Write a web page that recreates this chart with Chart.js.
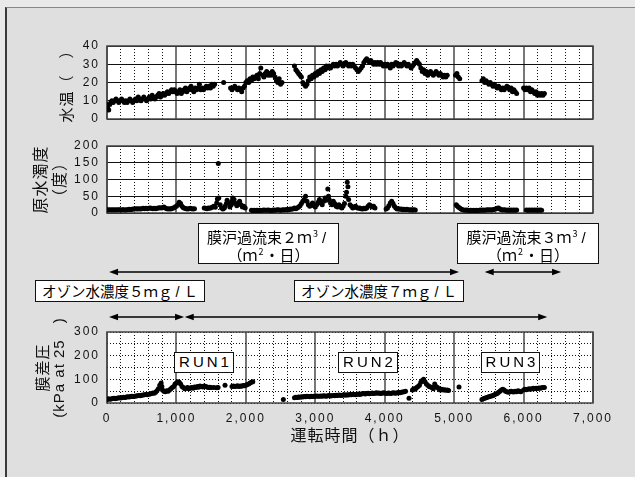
<!DOCTYPE html>
<html><head><meta charset="utf-8">
<script src="https://cdn.jsdelivr.net/npm/chart.js@4.4.1/dist/chart.umd.min.js"></script>
<style>
html,body{margin:0;padding:0;background:#e9e9e9;width:635px;height:477px;overflow:hidden;position:relative;}
#frame{position:absolute;left:5px;top:7px;width:640px;height:480px;background:#dfdfdf;border-top:1px solid #888;border-left:2px solid #3a3a3a;}
canvas{position:absolute;left:0;}
.box{position:absolute;background:#fff;border:1.5px solid #111;box-sizing:border-box;font-family:"Noto Sans CJK JP","Liberation Sans",sans-serif;color:#000;text-align:center;white-space:nowrap;z-index:5;}
.flux{font-size:15px;line-height:17px;padding-top:4px;}
.ozone{font-size:14.5px;line-height:19px;padding-top:0px;}
.run{font-family:"Liberation Sans",Arial,sans-serif;font-size:15px;line-height:18px;letter-spacing:3px;padding-left:3px;}
.sup{font-size:9px;vertical-align:6px;line-height:0;margin:0 1px;}
.sl{font-family:"Liberation Sans",Arial,sans-serif;margin:0 4px 0 3px;}
</style></head><body>
<div id="frame"></div>
<canvas id="c1" width="635" height="130" style="top:0px"></canvas>
<canvas id="c2" width="635" height="95" style="top:130px"></canvas>
<canvas id="c3" width="635" height="262" style="top:215px"></canvas>

<div class="box flux" style="left:198px;top:223px;width:141px;height:41px">膜沪過流束２ｍ<span class="sup">3</span><span class="sl">/</span><br>（ｍ<span class="sup">2</span>・日）</div>
<div class="box flux" style="left:457px;top:223px;width:142px;height:41px">膜沪過流束３ｍ<span class="sup">3</span><span class="sl">/</span><br>（ｍ<span class="sup">2</span>・日）</div>
<div class="box ozone" style="left:35px;top:280px;width:170px;height:22px">オゾン水濃度５ｍｇ<span class="sl">/</span>Ｌ</div>
<div class="box ozone" style="left:294px;top:280px;width:170px;height:22px">オゾン水濃度７ｍｇ<span class="sl">/</span>Ｌ</div>
<div class="box run" style="left:174px;top:352px;width:60px;height:21px">RUN1</div>
<div class="box run" style="left:338px;top:352px;width:60px;height:21px">RUN2</div>
<div class="box run" style="left:481px;top:352px;width:59px;height:21px">RUN3</div>

<script>
// ---- tick values ----
const xMajorTicks = [0,1000,2000,3000,4000,5000,6000,7000];
const xMinorTicks = [200,400,600,800,1200,1400,1600,1800,2200,2400,2600,2800,3200,3400,3600,3800,4200,4400,4600,4800,5200,5400,5600,5800,6200,6400,6600,6800];
const tempTicks = [0,10,20,30,40];
const turbTicks = [0,50,100,150,200];
const pressTicks = [0,50,100,150,200,250,300];
const pressLabelTicks = [0,100,200,300];

// ---- axis titles ----
const tempTitle = "水温（　）";
const turbTitle = ["原水濁度","（度）"];
const pressTitle = ["膜差圧","(kPa at 25　)"];
const xTitle = "運転時間（ｈ）";

// ---- arrow ranges (hours) for the condition annotations ----
const fluxArrows = [[30,5070],[5440,6540]];
const ozoneArrows = [[30,1110],[1120,6340]];

// ---- data: [hours, value] ----
const waterTemp = [
[0,8],[10,6],[25,5],[40,8],[55,9],[70,10],[90,9],[110,10],[130,11],[150,10],[170,9],[190,10],[210,11],[230,10],[250,9],[270,10],[290,9],[310,10],[330,11],[350,10],[370,9],[390,10],[410,11],[430,10],[450,12],[470,11],[490,10],[510,11],[530,12],[550,11],[570,10],[590,11],[610,12],[630,11],[650,13],[670,12],[690,11],[710,12],[730,13],[750,14],[770,12],[790,13],[810,14],[830,13],[850,14],[870,15],[890,14],[910,15],[930,16],[950,15],[970,16],[990,15],[1010,14],[1030,15],[1050,16],[1070,14],[1090,15],[1110,16],[1130,17],[1150,15],[1170,16],[1190,17],[1210,18],[1230,16],[1250,15],[1270,17],[1290,16],[1310,17],[1330,19],[1350,16],[1370,17],[1390,16],[1410,17],[1430,18],[1450,17],[1470,18],[1490,17],[1510,19],[1530,18],[1550,19],
[1680,20],
[1780,17],[1800,16],[1820,17],[1840,18],[1860,17],[1880,16],[1900,17],[1920,16],[1940,15],[1960,17],[1980,18],[2000,20],[2020,21],[2040,20],[2060,22],[2080,21],[2100,23],[2120,22],[2140,23],[2160,24],[2180,22],[2200,25],[2215,28],[2240,24],[2260,23],[2280,25],[2300,26],[2320,24],[2340,25],[2360,24],[2380,26],[2400,25],[2420,23],[2440,21],[2460,20],[2480,22],[2500,19],[2520,20],
[2700,29],[2720,27],[2740,26],[2760,25],[2780,24],[2800,23],[2820,20],[2840,19],[2860,18],[2880,19],[2900,21],[2920,23],[2940,22],[2960,24],[2980,23],[3000,25],[3020,24],[3040,26],[3060,25],[3080,27],[3100,26],[3120,28],[3140,27],[3160,29],[3180,28],[3200,29],[3220,28],[3240,29],[3260,30],[3280,29],[3300,30],[3320,29],[3340,30],[3360,31],[3380,30],[3400,29],[3420,30],[3440,31],[3460,30],[3480,29],[3500,30],[3520,29],[3540,30],[3560,29],[3580,28],[3600,27],[3620,26],[3640,27],[3660,28],[3680,29],[3700,31],[3720,32],[3740,33],[3760,32],[3780,31],[3800,32],[3820,31],[3840,30],[3860,31],[3880,30],[3900,31],[3920,30],[3940,31],[3960,30],[3980,29],[4000,30],[4020,29],[4040,30],[4060,29],[4080,28],[4100,30],[4120,29],[4140,30],[4160,31],[4180,30],[4200,29],[4220,30],[4240,29],[4260,30],[4280,31],[4300,30],[4320,29],[4340,30],[4360,29],[4380,28],[4400,29],[4420,30],[4440,31],[4460,32],[4480,31],[4500,30],[4520,28],[4540,26],[4560,27],[4580,25],[4600,26],[4620,24],[4640,25],[4660,26],[4680,25],[4700,24],[4720,25],[4740,26],[4760,25],[4780,24],[4800,25],[4820,24],[4840,23],[4860,24],[4880,23],[4900,24],
[5020,24],[5040,25],[5060,23],[5080,22],
[5400,21],[5420,22],[5440,20],[5460,21],[5480,20],[5500,19],[5520,20],[5540,19],[5560,18],[5580,19],[5600,18],[5620,17],[5640,18],[5660,17],[5680,16],[5700,17],[5720,16],[5740,17],[5760,18],[5780,17],[5800,16],[5820,17],[5840,15],[5860,16],[5880,15],[5900,14],
[6000,17],[6020,16],[6040,17],[6060,16],[6080,17],[6100,15],[6120,16],[6140,15],[6160,14],[6180,15],[6200,13],[6220,14],[6240,13],[6260,14],[6280,13],[6300,14]
];

const turbidity = [
[0,10],[20,9],[40,10],[60,9],[80,10],[100,9],[120,10],[140,9],[160,10],[180,10],[200,9],[220,10],[240,10],[260,9],[280,10],[300,10],[320,11],[340,10],[360,11],[380,12],[400,12],[420,13],[440,12],[460,13],[480,12],[500,13],[520,14],[540,13],[560,14],[580,13],[600,14],[620,15],[640,14],[660,13],[680,14],[700,13],[720,14],[740,15],[760,16],[780,15],[800,16],[820,18],[840,15],[860,13],[880,12],[900,13],[920,12],[940,14],[960,15],[980,18],[1000,20],[1020,25],[1040,32],[1060,28],[1080,20],[1100,16],[1120,14],[1140,13],[1160,12],[1180,13],[1200,14],[1220,13],[1240,12],[1260,13],
[1400,15],[1420,14],[1440,13],[1460,15],[1480,14],[1500,16],[1520,18],[1540,20],[1560,17],[1580,30],[1590,42],[1603,148],[1610,45],[1630,25],[1650,15],[1670,12],[1690,15],[1700,20],[1720,28],[1730,38],[1750,30],[1770,18],[1790,25],[1800,35],[1810,45],[1830,40],[1850,28],[1870,22],[1890,30],[1910,35],[1930,25],[1950,18],[1970,20],[1990,15],
[2080,8],[2100,7],[2120,8],[2140,7],[2160,8],[2180,7],[2200,8],[2220,7],[2240,8],[2260,9],[2280,8],[2300,8],[2320,9],[2340,8],[2360,7],[2380,8],[2400,9],[2420,8],[2440,9],[2460,10],[2480,9],[2500,8],[2520,9],[2540,10],[2560,9],[2580,10],[2600,11],[2620,10],[2640,12],[2660,11],[2680,13],[2700,15],[2720,13],[2740,15],[2760,18],[2780,22],[2800,28],[2820,35],[2840,40],[2860,50],[2880,35],[2900,25],[2920,20],[2940,25],[2960,30],[2980,22],[3000,18],[3020,25],[3040,32],[3060,40],[3080,30],[3100,25],[3120,35],[3140,45],[3160,38],[3180,72],[3190,50],[3200,40],[3220,30],[3240,25],[3260,35],[3280,28],[3300,20],[3320,18],[3340,25],[3360,20],[3380,15],[3400,20],[3420,28],[3440,50],[3450,62],[3460,92],[3470,78],[3480,40],[3500,25],[3520,20],[3540,15],[3560,18],[3580,20],[3600,16],[3620,14],[3640,15],[3660,13],[3680,12],[3700,14],[3720,13],[3740,15],[3760,20],[3780,25],[3800,22],[3820,18],[3840,20],[3860,15],
[4020,12],[4040,15],[4060,22],[4080,30],[4100,35],[4120,28],[4140,20],[4160,15],[4180,12],[4200,13],[4220,11],[4240,12],[4260,10],[4280,11],[4300,10],[4320,11],[4340,10],[4360,9],[4380,10],[4400,9],[4420,10],[4440,9],
[5030,25],[5040,22],[5060,18],[5080,15],[5100,12],[5120,10],[5140,9],[5160,8],[5180,9],[5200,8],[5220,7],[5240,8],[5260,7],[5280,8],[5300,7],[5320,8],[5340,7],[5360,8],[5380,9],[5400,8],[5420,9],[5440,8],[5460,9],[5480,10],[5500,9],[5520,10],[5540,9],[5560,10],[5580,11],[5600,12],[5620,14],[5640,15],[5660,12],[5680,10],[5700,9],[5720,10],[5740,9],[5760,8],[5780,9],[5800,8],[5820,9],[5840,8],[5860,9],[5880,8],[5900,9],
[6040,9],[6060,8],[6080,9],[6100,8],[6120,9],[6140,8],[6160,9],[6180,8],[6200,9],[6220,8],[6240,9],[6260,8]
];

const pressure = [
[0,15],[20,18],[40,16],[60,17],[80,19],[100,20],[120,18],[140,20],[160,21],[180,22],[200,21],[220,23],[240,24],[260,23],[280,25],[300,26],[320,25],[340,27],[360,28],[380,27],[400,29],[420,30],[440,31],[460,32],[480,31],[500,33],[520,34],[540,35],[560,36],[580,35],[600,37],[620,38],[640,40],[660,42],[680,41],[700,45],[720,52],[740,60],[760,75],[780,85],[790,70],[800,55],[820,50],[840,48],[860,52],[880,50],[900,55],[920,60],[940,65],[960,70],[980,80],[1000,85],[1020,90],[1040,88],[1060,80],[1080,70],[1100,65],[1120,60],[1140,62],[1160,65],[1180,60],[1200,63],[1220,66],[1240,62],[1260,68],[1280,65],[1300,70],[1320,67],[1340,72],[1360,70],[1380,68],[1400,72],[1420,70],[1440,68],[1460,65],[1480,67],[1500,65],[1540,66],[1580,64],[1600,65],
[1700,75],
[1800,70],[1820,72],[1840,70],[1860,71],[1880,73],[1900,70],[1920,72],[1940,71],[1960,74],[1980,73],[2000,75],[2020,78],[2040,80],[2060,84],[2080,88],[2100,90],
[2540,15],
[2700,22],[2720,24],[2740,23],[2760,25],[2780,24],[2800,26],[2820,25],[2840,27],[2860,26],[2880,28],[2900,27],[2920,26],[2940,28],[2960,27],[2980,29],[3000,28],[3020,30],[3040,29],[3060,28],[3080,30],[3100,29],[3120,31],[3140,30],[3160,29],[3180,31],[3200,32],[3220,30],[3240,31],[3260,32],[3280,31],[3300,33],[3320,32],[3340,34],[3360,33],[3380,32],[3400,34],[3420,35],[3440,33],[3460,35],[3480,34],[3500,36],[3520,35],[3540,37],[3560,36],[3580,35],[3600,37],[3620,38],[3640,36],[3660,38],[3680,39],[3700,40],[3720,38],[3740,40],[3760,41],[3780,39],[3800,40],[3820,42],[3840,40],[3860,41],[3880,43],[3900,41],[3920,42],[3940,40],[3960,41],[3980,43],[4000,42],[4020,40],[4040,41],[4060,42],[4080,40],[4100,41],[4120,43],[4140,42],[4160,41],[4180,43],[4200,44],[4220,43],[4240,45],[4260,46],[4280,48],[4300,50],
[4350,20],
[4400,55],[4420,60],[4440,58],[4460,65],[4480,70],[4500,75],[4520,88],[4540,95],[4560,100],[4580,90],[4600,80],[4620,75],[4640,70],[4660,68],[4680,65],[4700,60],[4720,80],[4740,70],[4760,65],[4780,60],[4800,55],[4820,58],[4840,55],[4860,56],[4880,54],[4900,55],[4920,53],
[5070,68],
[5400,15],[5420,18],[5440,20],[5460,22],[5480,24],[5500,26],[5520,28],[5540,30],[5560,32],[5580,35],[5600,38],[5620,40],[5640,45],[5660,50],[5680,55],[5700,58],[5720,55],[5740,50],[5760,48],[5780,45],[5800,47],[5820,50],[5840,48],[5860,46],[5880,50],[5900,48],[5920,52],[5940,50],[5960,48],
[6000,55],[6020,58],[6040,56],[6060,58],[6080,60],[6100,58],[6120,60],[6140,62],[6160,60],[6180,62],[6200,61],[6220,63],[6240,62],[6260,64],[6280,65],[6300,66]
];

// ---- helpers ----
const LAT = '"Liberation Sans", Arial, sans-serif';
const CJK = '"Liberation Sans", "Noto Sans CJK JP", sans-serif';

function setTicks(arr){ return s => { s.ticks = arr.map(v => ({value: v})); }; }

const areaPlugin = {
  id: 'area',
  beforeDraw(c){
    const a = c.chartArea, x = c.ctx;
    x.letterSpacing = '1px';
    x.save(); x.fillStyle = '#fff';
    x.fillRect(a.left, a.top, a.right - a.left, a.bottom - a.top);
    x.restore();
  },
  beforeDatasetsDraw(c){
    const a = c.chartArea, x = c.ctx;
    x.save(); x.strokeStyle = '#444'; x.lineWidth = 1.5;
    x.strokeRect(a.left, a.top, a.right - a.left, a.bottom - a.top);
    x.restore();
  },
  afterDatasetsDraw(c){ c.ctx.letterSpacing = '2px'; },
  afterDraw(c){ c.ctx.letterSpacing = '0px'; }
};

function arrow(ctx, x1, x2, y){
  const L = 9, H = 3.2;
  ctx.beginPath(); ctx.moveTo(x1 + L - 1, y); ctx.lineTo(x2 - L + 1, y); ctx.stroke();
  ctx.beginPath(); ctx.moveTo(x1, y); ctx.lineTo(x1 + L, y - H); ctx.lineTo(x1 + L, y + H); ctx.closePath(); ctx.fill();
  ctx.beginPath(); ctx.moveTo(x2, y); ctx.lineTo(x2 - L, y - H); ctx.lineTo(x2 - L, y + H); ctx.closePath(); ctx.fill();
}

const arrowPlugin = {
  id: 'arrows',
  afterDraw(c){
    const sx = c.scales.x, ctx = c.ctx;
    const top = c.chartArea.top;
    ctx.save(); ctx.strokeStyle = '#000'; ctx.fillStyle = '#000'; ctx.lineWidth = 1.4;
    fluxArrows.forEach(r => arrow(ctx, sx.getPixelForValue(r[0]), sx.getPixelForValue(r[1]), top - 60));
    ozoneArrows.forEach(r => arrow(ctx, sx.getPixelForValue(r[0]), sx.getPixelForValue(r[1]), top - 15));
    ctx.restore();
  }
};

function makeChart(id, pairs, yMax, yTicks, cfg){
  return new Chart(document.getElementById(id), {
    type: 'scatter',
    data: { datasets: [{
      data: pairs.map(p => ({x: p[0], y: p[1]})),
      backgroundColor: '#000', borderColor: '#000', borderWidth: 0,
      pointRadius: 2.5, pointHoverRadius: 2.5
    }]},
    options: {
      responsive: false, animation: false, events: [],
      layout: { padding: cfg.pad },
      plugins: { legend: {display: false}, tooltip: {enabled: false} },
      scales: {
        x: {
          type: 'linear', position: 'bottom', min: 0, max: 7000,
          afterBuildTicks: setTicks(xMajorTicks),
          afterFit: s => { s.height = cfg.xh; },
          grid: { color: '#777', lineWidth: 2, drawTicks: false },
          border: { display: false },
          ticks: { display: cfg.xLabels, padding: 8, z: 1, maxRotation: 0, autoSkip: false,
                   font: {family: LAT, size: 12}, color: '#111',
                   callback: v => Number(v).toLocaleString('en-US') },
          title: cfg.xTitle ? { display: true, text: cfg.xTitle, color: '#111',
                   font: {family: CJK, size: 16, lineHeight: 1.2}, padding: {top: 0, bottom: 6.4} }
                 : { display: false }
        },
        x2: {
          type: 'linear', position: 'bottom', min: 0, max: 7000,
          afterBuildTicks: setTicks(xMinorTicks),
          afterFit: s => { s.height = 0; },
          grid: { color: '#111', lineWidth: 1, drawTicks: false },
          border: { display: false, dash: [1, 2] },
          ticks: { display: false }
        },
        y: {
          type: 'linear', min: 0, max: yMax,
          afterBuildTicks: setTicks(yTicks),
          afterFit: s => { s.width = 107; s.paddingTop = 0; s.paddingBottom = 0; },
          grid: { color: '#111', lineWidth: 1, drawTicks: false },
          border: { display: false, dash: cfg.yDash },
          ticks: { padding: 7, z: 1, autoSkip: false, font: {family: LAT, size: 12}, color: '#111',
                   callback: cfg.yCb || (v => String(v)) },
          title: { display: true, text: cfg.yTitle, color: '#111',
                   font: {family: CJK, size: cfg.tSize, lineHeight: cfg.tLine},
                   padding: {top: cfg.tPad, bottom: 0} }
        }
      }
    },
    plugins: [areaPlugin].concat(cfg.extra || [])
  });
}

makeChart('c1', waterTemp, 40, tempTicks, {
  pad: {left: 0, right: 42, top: 46, bottom: 11}, xh: 0, xLabels: false,
  yDash: [], yTitle: tempTitle, tSize: 15, tLine: 1.2, tPad: 59
});
makeChart('c2', turbidity, 200, turbTicks, {
  pad: {left: 0, right: 42, top: 16, bottom: 12}, xh: 0, xLabels: false,
  yDash: [], yTitle: turbTitle, tSize: 16, tLine: 1.1875, tPad: 32.5
});
makeChart('c3', pressure, 300, pressTicks, {
  pad: {left: 0, right: 42, top: 117, bottom: 24}, xh: 50, xLabels: true, xTitle: xTitle,
  yDash: [1, 2], yTitle: pressTitle, tSize: 15, tLine: 1.07, tPad: 35.5,
  yCb: v => (pressLabelTicks.includes(v) ? String(v) : ''),
  extra: [arrowPlugin]
});
</script>
</body></html>
